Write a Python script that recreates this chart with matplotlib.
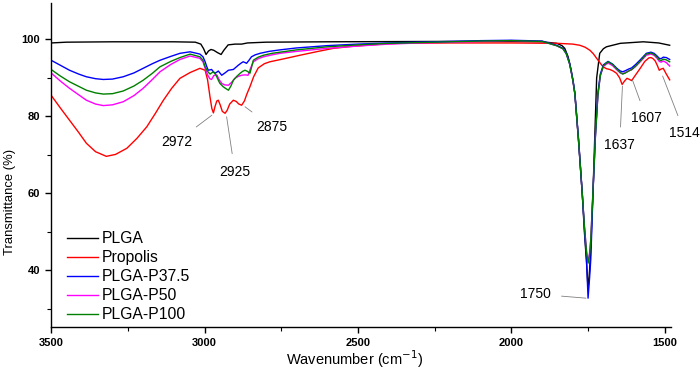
import numpy as np
import matplotlib
matplotlib.use("Agg")
import matplotlib.pyplot as plt
from matplotlib.ticker import MultipleLocator

plt.rcParams['font.family'] = ['Liberation Sans', 'DejaVu Sans']

# --- data (wavenumber cm-1, transmittance %) ---
plga_wn = [3500, 3450, 3300, 3100, 3030, 3012, 3003, 2995, 2987, 2979, 2970, 2958, 2946, 2937,
           2923, 2900, 2879, 2860, 2800, 2600, 2200, 2000, 1900, 1852, 1835, 1826, 1815,
           1805, 1793, 1781, 1769, 1762, 1755, 1750, 1745, 1741, 1734, 1728, 1722, 1712,
           1700, 1690, 1645, 1570, 1520, 1484]
plga_t = [99.1, 99.3, 99.4, 99.4, 99.3, 98.8, 97.6, 96.1, 97.0, 97.4, 97.2, 96.6, 96.1, 97.2,
          98.6, 98.8, 98.8, 99.1, 99.3, 99.4, 99.5, 99.5, 99.4, 99.0, 98.4, 97.7, 95.5,
          92.0, 86.0, 73.5, 60.0, 50.0, 42.0, 35.0, 40.0, 46.0, 60.0, 75.0, 90.0, 96.4,
          97.6, 98.1, 99.0, 99.4, 99.1, 98.5]

prop_wn = [3500, 3470, 3440, 3410, 3385, 3355, 3320, 3290, 3253, 3220, 3188, 3160, 3134, 3107,
           3080, 3047, 3015, 2998, 2990, 2982, 2976, 2971, 2966, 2960, 2955, 2949, 2942, 2933,
           2926, 2918, 2906, 2897, 2888, 2879, 2870, 2862, 2852, 2840, 2825, 2805, 2787, 2740,
           2689, 2630, 2580, 2520, 2472, 2420, 2363, 2200, 2000, 1850, 1800, 1777, 1760,
           1744, 1733, 1722, 1710, 1701, 1690, 1679, 1668, 1657, 1647, 1639, 1631, 1623,
           1615, 1608, 1595, 1580, 1565, 1552, 1545, 1538, 1531, 1524, 1518, 1512, 1505,
           1495, 1484]
prop_t = [85.5, 82.2, 79.0, 75.8, 73.0, 70.8, 69.6, 70.1, 71.7, 74.3, 77.3, 80.8, 84.2, 87.3,
          89.9, 91.4, 92.5, 92.0, 89.5, 85.0, 82.0, 80.9, 82.5, 84.0, 84.2, 83.0, 81.3, 80.8,
          81.6, 83.2, 84.2, 83.9, 83.2, 82.9, 84.0, 85.8, 87.7, 90.3, 92.6, 93.7, 94.2, 95.0,
          95.9, 96.9, 97.7, 98.2, 98.5, 98.8, 99.0, 99.1, 99.1, 99.0, 98.8, 98.5, 98.0,
          97.2, 96.3, 95.1, 93.8, 92.9, 92.4, 92.2, 91.8, 91.2, 90.0, 88.3, 89.2, 89.9,
          89.6, 89.3, 90.8, 92.5, 94.3, 95.2, 95.3, 95.0, 94.4, 93.2, 92.0, 92.3, 92.5,
          91.0, 89.5]

p375_wn = [3500, 3470, 3440, 3410, 3385, 3355, 3330, 3300, 3265, 3230, 3200, 3170, 3145, 3110,
           3080, 3047, 3015, 3005, 2998, 2993, 2988, 2982, 2977, 2971, 2966, 2960, 2955, 2950,
           2944, 2935, 2922, 2906, 2890, 2880, 2874, 2868, 2863, 2855, 2847, 2835, 2819, 2790,
           2754, 2700, 2600, 2500, 2400, 2300, 2200, 2100, 2000, 1900, 1853, 1832, 1821,
           1810, 1799, 1793, 1781, 1769, 1762, 1755, 1750, 1745, 1741, 1734, 1726, 1718,
           1710, 1700, 1685, 1670, 1655, 1645, 1637, 1628, 1618, 1608, 1595, 1580, 1560,
           1545, 1535, 1525, 1518, 1512, 1505, 1495, 1484]
p375_t = [94.6, 93.3, 92.0, 91.0, 90.3, 89.8, 89.6, 89.7, 90.3, 91.3, 92.5, 93.7, 94.6, 95.6,
          96.4, 96.8, 96.2, 95.5, 94.2, 93.0, 92.0, 92.1, 92.2, 91.6, 91.2, 91.5, 91.8, 91.3,
          90.7, 91.2, 92.0, 92.2, 93.3, 93.9, 94.2, 94.0, 93.8, 94.6, 95.5, 96.0, 96.4, 96.9,
          97.3, 97.8, 98.4, 98.8, 99.1, 99.3, 99.5, 99.7, 99.8, 99.6, 98.5, 97.7, 96.4,
          93.8, 89.4, 86.0, 74.0, 60.0, 51.0, 42.7, 32.7, 38.0, 43.0, 60.0, 75.0, 86.0,
          91.0, 93.4, 94.3, 93.6, 92.4, 91.8, 91.6, 91.9, 92.3, 92.6, 93.5, 94.7, 96.4,
          96.7, 96.4, 95.7, 95.1, 95.0, 95.4, 95.3, 94.8]

p50_wn = [3500, 3470, 3440, 3410, 3385, 3355, 3330, 3300, 3265, 3230, 3200, 3170, 3145, 3110,
          3080, 3047, 3015, 3005, 2998, 2990, 2983, 2977, 2970, 2960, 2952, 2944, 2935, 2922,
          2910, 2901, 2890, 2879, 2868, 2858, 2850, 2841, 2825, 2808, 2780, 2754, 2700, 2600,
          2500, 2400, 2300, 2200, 2100, 2000, 1900, 1853, 1832, 1821, 1810, 1799, 1793,
          1781, 1769, 1762, 1755, 1750, 1745, 1741, 1734, 1726, 1718, 1710, 1700, 1685,
          1670, 1655, 1645, 1637, 1628, 1618, 1608, 1595, 1580, 1560, 1545, 1535, 1525,
          1518, 1512, 1505, 1495, 1484]
p50_t = [91.3, 89.2, 87.3, 85.6, 84.2, 83.2, 82.8, 83.0, 83.8, 85.4, 87.3, 89.6, 91.6, 93.5,
         94.8, 95.7, 95.1, 94.2, 92.5, 90.8, 89.8, 89.6, 90.6, 90.8, 89.5, 88.6, 88.2, 88.1,
         89.0, 89.9, 90.4, 90.7, 90.8, 90.7, 92.5, 94.2, 95.0, 95.5, 96.0, 96.4, 96.9, 97.7,
         98.3, 98.8, 99.1, 99.3, 99.5, 99.7, 99.5, 98.4, 97.6, 96.3, 93.6, 89.2, 85.8,
         73.8, 60.0, 51.5, 45.0, 42.0, 44.5, 48.0, 60.5, 75.0, 85.5, 90.6, 93.0, 93.9,
         93.2, 92.0, 91.3, 91.1, 91.4, 91.8, 92.1, 93.0, 94.2, 95.9, 96.2, 95.9, 95.1,
         94.3, 94.1, 94.4, 94.0, 93.1]

p100_wn = [3500, 3470, 3440, 3410, 3385, 3355, 3330, 3300, 3265, 3230, 3200, 3170, 3145, 3110,
           3080, 3047, 3015, 3005, 2998, 2990, 2982, 2977, 2971, 2965, 2960, 2955, 2950, 2944,
           2939, 2930, 2922, 2914, 2906, 2895, 2884, 2876, 2868, 2860, 2852, 2846, 2841, 2825,
           2808, 2780, 2754, 2700, 2600, 2500, 2400, 2300, 2200, 2100, 2000, 1900, 1853,
           1832, 1821, 1810, 1799, 1793, 1781, 1769, 1762, 1755, 1750, 1745, 1741, 1734,
           1726, 1718, 1710, 1700, 1685, 1670, 1655, 1645, 1637, 1628, 1618, 1608, 1595,
           1580, 1560, 1545, 1535, 1525, 1518, 1512, 1505, 1495, 1484]
p100_t = [92.2, 90.5, 89.0, 87.8, 86.8, 86.1, 85.8, 85.9, 86.6, 87.9, 89.4, 91.2, 92.9, 94.3,
          95.3, 96.2, 95.5, 94.6, 92.9, 91.7, 91.0, 91.3, 91.6, 91.0, 90.3, 89.4, 88.6, 88.1,
          87.7, 87.2, 86.8, 87.9, 89.4, 90.4, 91.2, 91.7, 92.0, 91.7, 91.2, 93.0, 94.6, 95.4,
          95.9, 96.4, 96.7, 97.3, 98.1, 98.6, 99.0, 99.2, 99.4, 99.6, 99.7, 99.5, 98.4,
          97.6, 96.3, 93.6, 89.2, 85.8, 73.8, 60.0, 51.5, 44.5, 41.8, 44.0, 48.0, 60.5,
          75.0, 85.5, 90.6, 93.2, 94.2, 93.5, 92.2, 91.4, 91.0, 91.3, 91.8, 92.2, 93.1,
          94.4, 96.2, 96.5, 96.1, 95.4, 94.7, 94.5, 94.9, 94.7, 94.2]

series = [("PLGA", plga_wn, plga_t, "#000000"),
          ("Propolis", prop_wn, prop_t, "#ff0000"),
          ("PLGA-P50", p50_wn, p50_t, "#ff00ff"),
          ("PLGA-P37.5", p375_wn, p375_t, "#0000ff"),
          ("PLGA-P100", p100_wn, p100_t, "#008000")]
legend_order = ["PLGA", "Propolis", "PLGA-P37.5", "PLGA-P50", "PLGA-P100"]

# peak labels: text, peak position, text position
peak_labels = ["2972", "2925", "2875", "1750", "1637", "1607", "1514"]
peak_xy = [(2976, 80.3), (2928, 79.9), (2868, 82.5), (1757, 32.7), (1638, 87.9), (1605, 89.4), (1507, 90.5)]
text_xy = [(3091, 73.4), (2901, 65.6), (2781, 77.3), (1923, 33.8), (1647, 72.5), (1560, 79.5), (1435, 75.6)]

fig = plt.figure(figsize=(7.0, 3.72), dpi=100)
ax = fig.add_axes([0.073, 0.121, 0.885, 0.871])

lines = {}
for name, wn, t, c in series:
    ln, = ax.plot(wn, t, color=c, lw=1.0, label=name)
    lines[name] = ln

ax.set_xlim(3500, 1481)
ax.set_ylim(25.2, 109.5)
ax.xaxis.set_major_locator(MultipleLocator(500))
ax.xaxis.set_minor_locator(MultipleLocator(250))
ax.yaxis.set_major_locator(MultipleLocator(20))
ax.yaxis.set_minor_locator(MultipleLocator(10))

for s in ["top", "right"]:
    ax.spines[s].set_visible(False)
for s in ["left", "bottom"]:
    ax.spines[s].set_linewidth(1.0)

ax.tick_params(which="major", direction="out", length=4, width=1.0, labelsize=8, pad=4)
ax.tick_params(which="minor", direction="out", length=3, width=0.8)
for lab in ax.get_xticklabels() + ax.get_yticklabels():
    lab.set_fontweight("bold")

ax.set_xlabel("Wavenumber (cm$^{-1}$)", fontsize=10.5)
ax.set_ylabel("Transmittance (%)", fontsize=9.4)
ax.xaxis.set_label_coords(0.489, -0.067)
ax.yaxis.set_label_coords(-0.056, 0.386)

for lab, p, txy in zip(peak_labels, peak_xy, text_xy):
    ax.annotate(lab, xy=p, xytext=txy, ha="center", va="center", fontsize=10,
                annotation_clip=False,
                arrowprops=dict(arrowstyle="-", color="#808080", lw=0.6,
                                shrinkA=6, shrinkB=0))

ax.legend([lines[n] for n in legend_order], legend_order, loc="lower left",
          bbox_to_anchor=(0.025, 0.015), frameon=False, fontsize=11.3,
          handlelength=2.0, handletextpad=0.25, labelspacing=0.25,
          borderpad=0, borderaxespad=0)

fig.savefig("out.png", dpi=100)
